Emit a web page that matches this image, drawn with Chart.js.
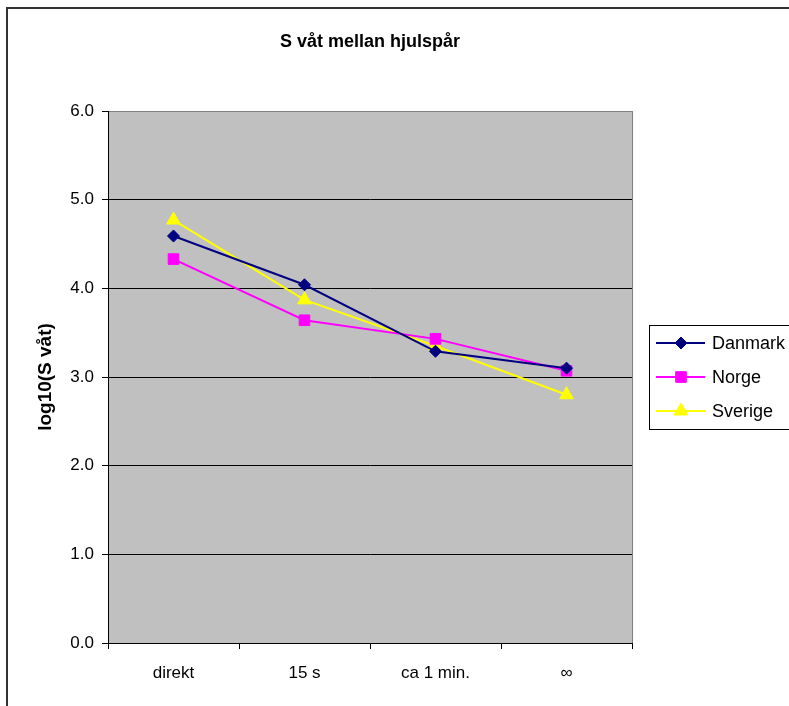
<!DOCTYPE html>
<html>
<head>
<meta charset="utf-8">
<script src="https://cdn.jsdelivr.net/npm/chart.js@4/dist/chart.umd.min.js"></script>
<style>
  html, body { margin: 0; padding: 0; background: #fff; }
  canvas { display: block; }
</style>
</head>
<body>
<canvas id="chart" width="789" height="706"></canvas>
<script>
// chart data
const categories = ['direkt', '15 s', 'ca 1 min.', '\u221e'];
const danmark = [4.59, 4.04, 3.29, 3.10];
const norge = [4.33, 3.64, 3.43, 3.07];
const sverige = [4.77, 3.87, 3.35, 2.80];
const yMin = 0;
const yMax = 6;
const yStep = 1;
const chartTitle = 'S våt mellan hjulspår';
const yTitle = 'log10(S våt)';

const FONT = "'Liberation Sans', Arial, sans-serif";

// small marker painter for the legend (same shapes as the points)
function drawMarker(ctx, style, r, x, y) {
    ctx.beginPath();
    if (style === 'rectRot') {
        ctx.moveTo(x, y - r);
        ctx.lineTo(x + r, y);
        ctx.lineTo(x, y + r);
        ctx.lineTo(x - r, y);
    } else if (style === 'rect') {
        const s = r * Math.SQRT1_2;
        ctx.rect(x - s, y - s, 2 * s, 2 * s);
    } else {
        const h = r * Math.sqrt(3) / 2;
        ctx.moveTo(x, y - r);
        ctx.lineTo(x + h, y + r / 2);
        ctx.lineTo(x - h, y + r / 2);
    }
    ctx.closePath();
    ctx.fill();
    ctx.stroke();
}

// grey plot area, outer frame, title and legend
const excelLook = {
    id: 'excelLook',
    beforeDraw(chart) {
        const { ctx, chartArea: a } = chart;
        ctx.save();
        ctx.fillStyle = '#fff';
        ctx.fillRect(0, 0, chart.width, chart.height);
        ctx.strokeStyle = '#333';
        ctx.lineWidth = 2;
        ctx.strokeRect(7, 8, chart.width + 20, chart.height + 20);
        ctx.fillStyle = '#c0c0c0';
        ctx.fillRect(a.left, a.top, a.right - a.left, a.bottom - a.top);
        ctx.restore();
    },
    beforeDatasetsDraw(chart) {
        const { ctx, chartArea: a } = chart;
        ctx.save();
        ctx.strokeStyle = '#808080';
        ctx.lineWidth = 1;
        ctx.beginPath();
        ctx.moveTo(a.right + 0.5, a.top);
        ctx.lineTo(a.right + 0.5, a.bottom);
        ctx.stroke();
        ctx.restore();
    },
    afterDraw(chart) {
        const { ctx } = chart;
        ctx.save();
        // title
        ctx.fillStyle = '#000';
        ctx.font = 'bold 18px ' + FONT;
        ctx.textAlign = 'center';
        ctx.textBaseline = 'middle';
        ctx.fillText(chartTitle, 370, 42);

        // legend box
        ctx.fillStyle = '#fff';
        ctx.fillRect(649.5, 325.5, 200, 104);
        ctx.strokeStyle = '#000';
        ctx.lineWidth = 1;
        ctx.strokeRect(649.5, 325.5, 200, 104);

        chart.data.datasets.forEach((ds, i) => {
            const y = 343 + i * 34;
            ctx.strokeStyle = ds.borderColor;
            ctx.lineWidth = ds.borderWidth;
            ctx.beginPath();
            ctx.moveTo(656, y);
            ctx.lineTo(705, y);
            ctx.stroke();
            ctx.fillStyle = ds.pointBackgroundColor;
            ctx.strokeStyle = ds.pointBorderColor;
            ctx.lineWidth = 1;
            drawMarker(ctx, ds.pointStyle, ds.pointRadius, 681, y);
            ctx.fillStyle = '#000';
            ctx.font = '18px ' + FONT;
            ctx.textAlign = 'left';
            ctx.textBaseline = 'middle';
            ctx.fillText(ds.label, 712, y + 1);
        });
        ctx.restore();
    }
};

function series(label, data, color, style, radius) {
    return {
        label: label,
        data: data,
        borderColor: color,
        backgroundColor: color,
        borderWidth: 2,
        pointStyle: style,
        pointRadius: radius,
        pointHoverRadius: radius,
        pointBackgroundColor: color,
        pointBorderColor: color,
        pointBorderWidth: 1,
        tension: 0,
        fill: false
    };
}

new Chart(document.getElementById('chart'), {
    type: 'line',
    data: {
        labels: categories,
        datasets: [
            series('Danmark', danmark, '#000080', 'rectRot', 6),
            series('Norge', norge, '#ff00ff', 'rect', 7.5),
            series('Sverige', sverige, '#ffff00', 'triangle', 8)
        ]
    },
    options: {
        responsive: false,
        animation: false,
        layout: { padding: { top: 111, right: 157, bottom: 0, left: 0 } },
        plugins: {
            legend: { display: false },
            title: { display: false },
            tooltip: { enabled: false }
        },
        scales: {
            x: {
                type: 'category',
                offset: true,
                grid: {
                    offset: true,
                    drawOnChartArea: false,
                    drawTicks: true,
                    tickLength: 6,
                    color: '#000'
                },
                border: { color: '#000', width: 1 },
                ticks: {
                    color: '#000',
                    font: { size: 17, family: FONT },
                    padding: 14,
                    maxRotation: 0,
                    autoSkip: false
                },
                afterFit(scale) { scale.height = 63; }
            },
            y: {
                min: yMin,
                max: yMax,
                ticks: {
                    stepSize: yStep,
                    color: '#000',
                    font: { size: 17, family: FONT },
                    padding: 8,
                    callback: v => v.toFixed(1)
                },
                grid: {
                    color: c => (c.tick && c.tick.value === yMax) ? '#808080' : '#000',
                    tickColor: '#000',
                    tickLength: 6
                },
                border: { color: '#000', width: 1 },
                title: {
                    display: true,
                    text: yTitle,
                    color: '#000',
                    font: { size: 19, weight: 'bold', family: FONT },
                    padding: { top: 34, bottom: 0 }
                },
                afterFit(scale) { scale.width = 108; }
            }
        }
    },
    plugins: [excelLook]
});
</script>
</body>
</html>
